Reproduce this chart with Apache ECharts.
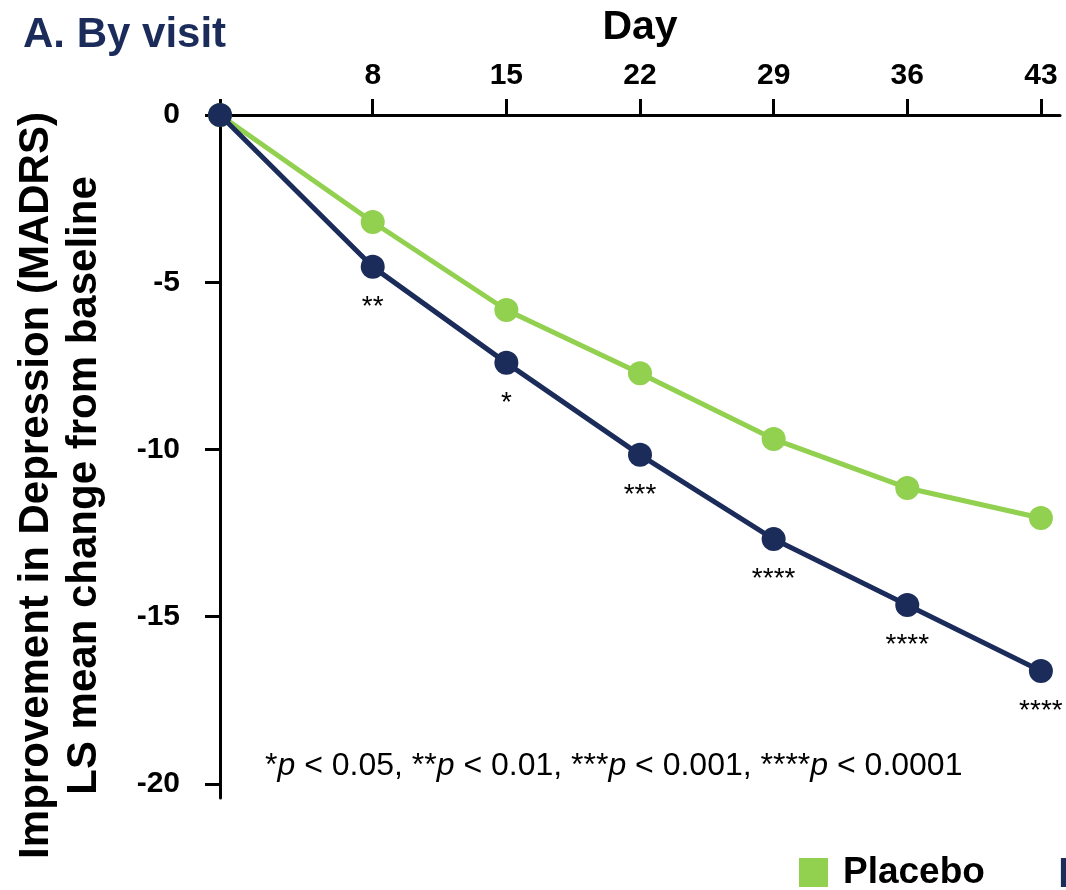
<!DOCTYPE html>
<html>
<head>
<meta charset="utf-8">
<script src="https://cdn.jsdelivr.net/npm/echarts@6/dist/echarts.min.js"></script>
<style>
  html, body { margin: 0; padding: 0; background: #ffffff; }
  #chart { width: 1066px; height: 890px; }
</style>
</head>
<body>
<div id="chart"></div>
<script>
// ---- data ----
const days = [0, 8, 15, 22, 29, 36, 43];
const dayTicks = [0, 8, 15, 22, 29, 36, 43];
const dayLabels = [8, 15, 22, 29, 36, 43];
const yTicks = [0, -5, -10, -15, -20];
const placebo = [0, -3.2, -5.83, -7.72, -9.69, -11.15, -12.05];
const drug = [0, -4.54, -7.41, -10.16, -12.68, -14.65, -16.62];
const significance = ['', '**', '*', '***', '****', '****', '****'];
const seriesNames = ['Placebo', 'Treatment'];
const footnote = '*{i|p} < 0.05, **{i|p} < 0.01, ***{i|p} < 0.001, ****{i|p} < 0.0001';

const NAVY = '#1b2c5b';
const GREEN = '#92d050';
const FONT = '"Liberation Sans", Arial, sans-serif';

const chart = echarts.init(document.getElementById('chart'), null, { renderer: 'canvas' });

const option = {
  backgroundColor: '#ffffff',
  animation: false,
  title: {
    text: 'A. By visit',
    left: 18,
    top: 9,
    textStyle: { color: NAVY, fontFamily: FONT, fontWeight: 'bold', fontSize: 42 }
  },
  legend: {
    left: 794,
    top: 849,
    width: 900,
    icon: 'rect',
    itemWidth: 29,
    itemHeight: 29,
    itemGap: 76,
    data: seriesNames,
    textStyle: { fontFamily: FONT, fontWeight: 'bold', fontSize: 37, color: '#000', padding: [0, 0, 0, 10] }
  },
  grid: { left: 220, right: 6, top: 115, bottom: 92, containLabel: false, outerBoundsMode: 'none' },
  xAxis: {
    type: 'value',
    position: 'top',
    min: 0,
    max: 44,
    name: 'Day',
    nameLocation: 'middle',
    nameGap: 67,
    nameTextStyle: { fontFamily: FONT, fontWeight: 'bold', fontSize: 41, color: '#000' },
    axisLine: { show: true, onZero: false, lineStyle: { color: '#000', width: 3 } },
    axisTick: { show: true, inside: false, length: 16, customValues: dayTicks, lineStyle: { color: '#000', width: 3 } },
    axisLabel: { customValues: dayLabels, margin: 24, fontFamily: FONT, fontWeight: 'bold', fontSize: 30, color: '#000' },
    splitLine: { show: false }
  },
  yAxis: {
    type: 'value',
    min: -20.42,
    max: 0,
    name: 'Improvement in Depression (MADRS)\nLS mean change from baseline',
    nameLocation: 'middle',
    nameRotate: 90,
    nameGap: 112,
    nameTextStyle: { fontFamily: FONT, fontWeight: 'bold', fontSize: 42, color: '#000', lineHeight: 48, padding: [0, 58, 0, 0] },
    axisLine: { show: true, onZero: false, lineStyle: { color: '#000', width: 3 } },
    axisTick: { show: true, inside: false, length: 15, customValues: yTicks, lineStyle: { color: '#000', width: 3 } },
    axisLabel: { customValues: yTicks, margin: 40, fontFamily: FONT, fontWeight: 'bold', fontSize: 30, color: '#000' },
    splitLine: { show: false }
  },
  graphic: [{
    type: 'text',
    left: 265,
    top: 750,
    style: {
      text: footnote,
      fontFamily: FONT,
      fontSize: 32,
      fill: '#000',
      rich: { i: { fontStyle: 'italic', fontFamily: FONT, fontSize: 32 } }
    }
  }],
  series: [
    {
      name: seriesNames[0],
      type: 'line',
      data: days.map((d, i) => [d, placebo[i]]),
      symbol: 'circle',
      symbolSize: 24,
      itemStyle: { color: GREEN },
      lineStyle: { color: GREEN, width: 5 },
      z: 2
    },
    {
      name: seriesNames[1],
      type: 'line',
      data: days.map((d, i) => [d, drug[i]]),
      symbol: 'circle',
      symbolSize: 24,
      itemStyle: { color: NAVY },
      lineStyle: { color: NAVY, width: 5 },
      label: {
        show: true,
        position: 'bottom',
        distance: 14,
        fontFamily: FONT,
        fontSize: 28,
        color: '#000',
        formatter: p => significance[p.dataIndex]
      },
      z: 3
    }
  ]
};

chart.setOption(option);
</script>
</body>
</html>
